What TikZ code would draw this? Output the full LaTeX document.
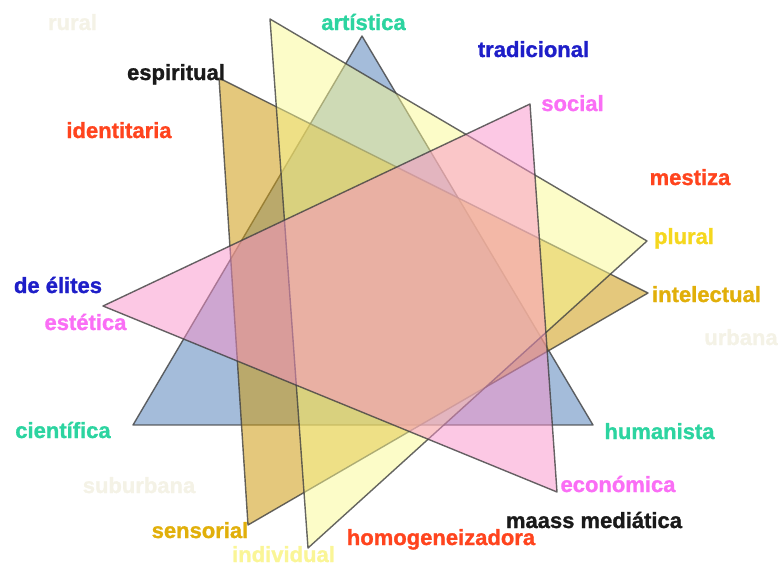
\documentclass[tikz,border=0pt]{standalone}
\usepackage{fontspec}
\setmainfont{Liberation Sans}[BoldFeatures={FakeBold=1.2}]
\begin{document}
\begin{tikzpicture}[x=1pt,y=-1pt,
  tri/.style={draw=black!75, line width=1.4pt, draw opacity=0.8, line join=round},
  lbl/.style={anchor=base, inner sep=0pt, font=\fontsize{22}{22}\selectfont\bfseries},
]
\definecolor{triblue}{RGB}{164,188,218}
\definecolor{trigold}{RGB}{205,155,16}
\definecolor{tripale}{RGB}{249,249,145}
\definecolor{tripink}{RGB}{249,145,201}
\definecolor{cteal}{RGB}{44,212,160}
\definecolor{cblue}{RGB}{30,30,200}
\definecolor{cblack}{RGB}{26,26,26}
\definecolor{cmag}{RGB}{250,110,245}
\definecolor{cred}{RGB}{255,68,30}
\definecolor{cyel}{RGB}{245,215,30}
\definecolor{cgold}{RGB}{225,175,10}
\definecolor{cpale}{RGB}{250,245,150}
\definecolor{cfaint}{RGB}{244,242,230}
\useasboundingbox (0,0) rectangle (780,566);
% vertices
\coordinate (b1) at (362,36);
\coordinate (b2) at (133,425);
\coordinate (b3) at (593,425);
\coordinate (g1) at (219,78);
\coordinate (g2) at (648,293);
\coordinate (g3) at (248,525);
\coordinate (y1) at (270,19);
\coordinate (y2) at (647,241);
\coordinate (y3) at (308,548);
\coordinate (p1) at (103,306);
\coordinate (p2) at (530,104);
\coordinate (p3) at (557,492);
% triangles
\draw[tri, fill=triblue] (b1) -- (b2) -- (b3) -- cycle;
\draw[tri, fill=trigold, fill opacity=0.55] (g1) -- (g2) -- (g3) -- cycle;
\draw[tri, fill=tripale, fill opacity=0.5] (y1) -- (y2) -- (y3) -- cycle;
\draw[tri, fill=tripink, fill opacity=0.5] (p1) -- (p2) -- (p3) -- cycle;
% labels
\node[lbl, text=cfaint] (rural) at (72.5,30) {rural};
\node[lbl, text=cteal] (artistica) at (363.5,30) {artística};
\node[lbl, text=cblue] (tradicional) at (533.5,57) {tradicional};
\node[lbl, text=cblack] (espiritual) at (176,80) {espiritual};
\node[lbl, text=cmag] (social) at (572.5,111) {social};
\node[lbl, text=cred] (identitaria) at (119,138) {identitaria};
\node[lbl, text=cred] (mestiza) at (690,185) {mestiza};
\node[lbl, text=cyel] (plural) at (684,244) {plural};
\node[lbl, text=cgold] (intelectual) at (706.5,302) {intelectual};
\node[lbl, text=cfaint] (urbana) at (741,345) {urbana};
\node[lbl, text=cblue] (elites) at (58,293) {de élites};
\node[lbl, text=cmag] (estetica) at (85.5,330) {estética};
\node[lbl, text=cteal] (cientifica) at (63,438) {científica};
\node[lbl, text=cteal] (humanista) at (659.5,439) {humanista};
\node[lbl, text=cfaint] (suburbana) at (139,493) {suburbana};
\node[lbl, text=cmag] (economica) at (618,492) {económica};
\node[lbl, text=cblack] (mediatica) at (594,528) {maass mediática};
\node[lbl, text=cgold] (sensorial) at (200,538) {sensorial};
\node[lbl, text=cred] (homog) at (441,545) {homogeneizadora};
\node[lbl, text=cpale] (individual) at (283.5,562) {individual};
\end{tikzpicture}
\end{document}
